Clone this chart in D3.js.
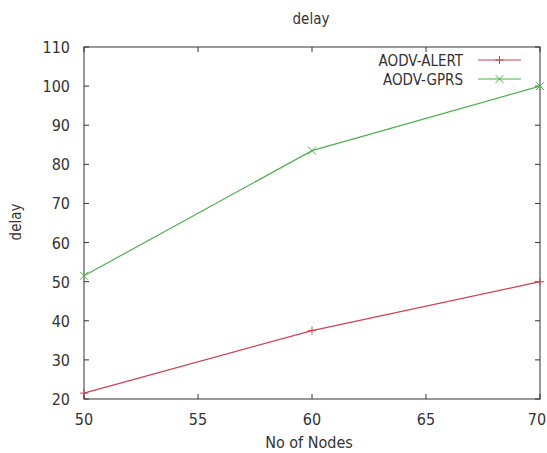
<!DOCTYPE html>
<html>
<head>
<meta charset="utf-8">
<script src="https://cdn.jsdelivr.net/npm/d3@7"></script>
<style>
  body { margin: 0; background: #fff; }
  svg text { font-family: "DejaVu Sans Condensed", "DejaVu Sans", sans-serif; fill: #333; }
</style>
</head>
<body>
<svg width="547" height="453"></svg>
<script>
const nodes = [50, 60, 70];
const alertDelay = [21.5, 37.5, 50];
const gprsDelay = [51.5, 83.5, 100];
const seriesNames = ["AODV-ALERT", "AODV-GPRS"];
const xTicks = [50, 55, 60, 65, 70];
const yTicks = [20, 30, 40, 50, 60, 70, 80, 90, 100, 110];

const svg = d3.select("svg");
const margin = {left: 84, right: 7, top: 47, bottom: 54};
const W = 547, H = 453;

const x = d3.scaleLinear().domain([50, 70]).range([margin.left, W - margin.right]);
const y = d3.scaleLinear().domain([20, 110]).range([H - margin.bottom, margin.top]);

const series = [
    {name: seriesNames[0], values: alertDelay, color: "#d0404f", mark: "plus"},
    {name: seriesNames[1], values: gprsDelay, color: "#4cb04c", mark: "cross"}
];

// frame
svg.append("rect")
    .attr("x", x(50)).attr("y", y(110))
    .attr("width", x(70) - x(50)).attr("height", y(20) - y(110))
    .attr("fill", "none").attr("stroke", "#333").attr("stroke-width", 1);

const tickLen = 5;
const ticks = svg.append("g").attr("stroke", "#333");
xTicks.forEach(t => {
    ticks.append("line").attr("x1", x(t)).attr("x2", x(t)).attr("y1", y(20)).attr("y2", y(20) - tickLen);
    ticks.append("line").attr("x1", x(t)).attr("x2", x(t)).attr("y1", y(110)).attr("y2", y(110) + tickLen);
});
yTicks.forEach(t => {
    ticks.append("line").attr("x1", x(50)).attr("x2", x(50) + tickLen).attr("y1", y(t)).attr("y2", y(t));
    ticks.append("line").attr("x1", x(70)).attr("x2", x(70) - tickLen).attr("y1", y(t)).attr("y2", y(t));
});

svg.append("g").selectAll("text")
    .data(xTicks).enter().append("text")
    .attr("x", d => d === 70 ? x(d) - 3 : x(d)).attr("y", y(20) + 26)
    .attr("text-anchor", "middle").attr("font-size", 16)
    .text(d => d);

svg.append("g").selectAll("text")
    .data(yTicks).enter().append("text")
    .attr("x", x(50) - 14).attr("y", d => y(d) + 6)
    .attr("text-anchor", "end").attr("font-size", 16)
    .text(d => d);

svg.append("text").attr("x", 311).attr("y", 24)
    .attr("text-anchor", "middle").attr("font-size", 15).text("delay");
svg.append("text").attr("x", 309).attr("y", 448)
    .attr("text-anchor", "middle").attr("font-size", 16).text("No of Nodes");
svg.append("text").attr("transform", "translate(21,222) rotate(-90)")
    .attr("text-anchor", "middle").attr("font-size", 15).text("delay");

const line = d3.line().x((d, i) => x(nodes[i])).y(d => y(d));

function marker(g, cx, cy, kind, color) {
    const s = 4;
    if (kind === "plus") {
        g.append("path").attr("d", `M${cx - s},${cy}H${cx + s}M${cx},${cy - s}V${cy + s}`)
            .attr("stroke", color).attr("fill", "none");
    } else {
        g.append("path").attr("d", `M${cx - s},${cy - s}L${cx + s},${cy + s}M${cx - s},${cy + s}L${cx + s},${cy - s}`)
            .attr("stroke", color).attr("fill", "none");
    }
}

series.forEach((s, k) => {
    const g = svg.append("g");
    g.append("path").datum(s.values)
        .attr("d", line).attr("fill", "none")
        .attr("stroke", s.color).attr("stroke-width", 1.2);
    s.values.forEach((v, i) => marker(g, x(nodes[i]), y(v), s.mark, s.color));

    const ly = 60 + k * 19;
    svg.append("text").attr("x", 463).attr("y", ly + 6)
        .attr("text-anchor", "end").attr("font-size", 15).text(s.name);
    g.append("line").attr("x1", 478).attr("x2", 521).attr("y1", ly).attr("y2", ly)
        .attr("stroke", s.color).attr("stroke-width", 1.2);
    marker(g, 499.5, ly, s.mark, s.color);
});
</script>
</body>
</html>
